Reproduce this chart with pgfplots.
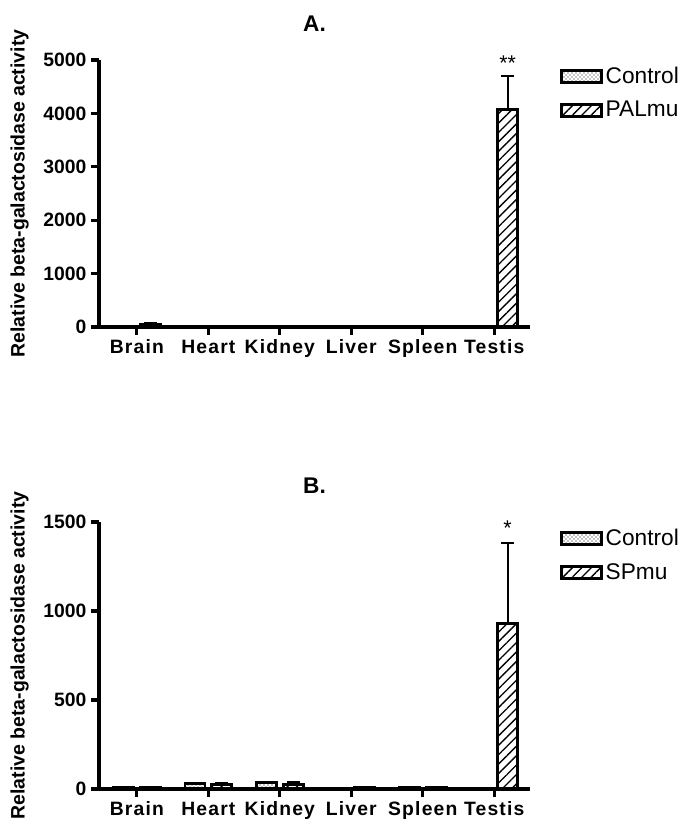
\documentclass[border=0pt]{standalone}
\usepackage{fontspec}
\setmainfont{Liberation Sans}
\usepackage{pgfplots}
\pgfplotsset{compat=1.18}
\usetikzlibrary{patterns,patterns.meta}

% 1 px of the reference = 0.75pt
\pgfplotsset{
  galbar/.style={
    ybar=5pt, bar width=15pt,
    scale only axis, width=323.25pt, height=200.25pt,
    axis lines=left, axis line style={line width=2.4pt, -},
    xmin=-0.53, xmax=5.5, ymin=0,
    xtick={0,...,5}, xticklabels={Brain,Heart,Kidney,Liver,Spleen,Testis},
    tick style={line width=2.4pt, black}, major tick length=6pt,
    tick align=outside,
    xticklabel style={font=\fontsize{14.5}{14.5}\selectfont\bfseries\addfontfeature{LetterSpace=6},
      text height=10.5pt, text depth=3pt},
    yticklabel style={font=\fontsize{14.5}{14.5}\selectfont\bfseries},
    /pgf/number format/assume math mode=true,
    /pgf/number format/set thousands separator={},
    ylabel={Relative beta-galactosidase activity},
    ylabel style={font=\fontsize{14.6}{14.6}\selectfont\bfseries, yshift=4pt},
    title style={font=\fontsize{17}{17}\selectfont\bfseries, yshift=12pt},
    legend style={at={(1.06,0.995)}, anchor=north west, draw=none, fill=none,
      font=\fontsize{17}{17}\selectfont, row sep=8pt},
    legend image code/.code={\draw[#1, line width=2.2pt] (0pt,-4.5pt) rectangle (30pt,4.5pt);},
    legend cell align=left,
    clip=false,
    error bars/y dir=plus, error bars/y explicit,
    error bars/error bar style={line width=1.6pt, black},
    error bars/error mark options={rotate=90, mark size=5pt, line width=1.6pt, black},
  },
  ctrl/.style={draw=black, line width=2.2pt, pattern=crosshatch dots},
  mut/.style={draw=black, line width=2.2pt, pattern={Lines[angle=45, distance=5pt, line width=1pt]}},
}

\begin{document}
\begin{tikzpicture}
\useasboundingbox (-74.25pt,-376.5pt) rectangle (443.25pt,245.25pt);

% Panel A
\begin{axis}[galbar, at={(0,0)}, anchor=south west,
  title={A.}, ymax=5000, ytick={0,1000,...,5000}]
\addplot[ctrl] coordinates {(0,10) +- (0,3) (1,15) +- (0,4) (2,18) +- (0,4)
  (3,5) +- (0,1) (4,5) +- (0,1) (5,8) +- (0,2)};
\addplot[mut] coordinates {(0,55) +- (0,15) (1,15) +- (0,5) (2,0) +- (0,0)
  (3,5) +- (0,1) (4,5) +- (0,1) (5,4070) +- (0,630)};
\legend{Control,PALmu}
\node[anchor=south, font=\fontsize{16}{16}\selectfont, xshift=10pt] at (axis cs:5,4720) {**};
\end{axis}

% Panel B
\begin{axis}[galbar, at={(0,-346.5pt)}, anchor=south west,
  title={B.}, ymax=1500, ytick={0,500,1000,1500}]
\addplot[ctrl] coordinates {(0,8) +- (0,3) (1,30) +- (0,6) (2,35) +- (0,5)
  (3,3) +- (0,1) (4,8) +- (0,2) (5,5) +- (0,2)};
\addplot[mut] coordinates {(0,10) +- (0,3) (1,25) +- (0,8) (2,25) +- (0,15)
  (3,10) +- (0,3) (4,8) +- (0,2) (5,930) +- (0,450)};
\legend{Control,SPmu}
\node[anchor=south, font=\fontsize{16}{16}\selectfont, xshift=10pt] at (axis cs:5,1395) {*};
\end{axis}
\end{tikzpicture}
\end{document}
